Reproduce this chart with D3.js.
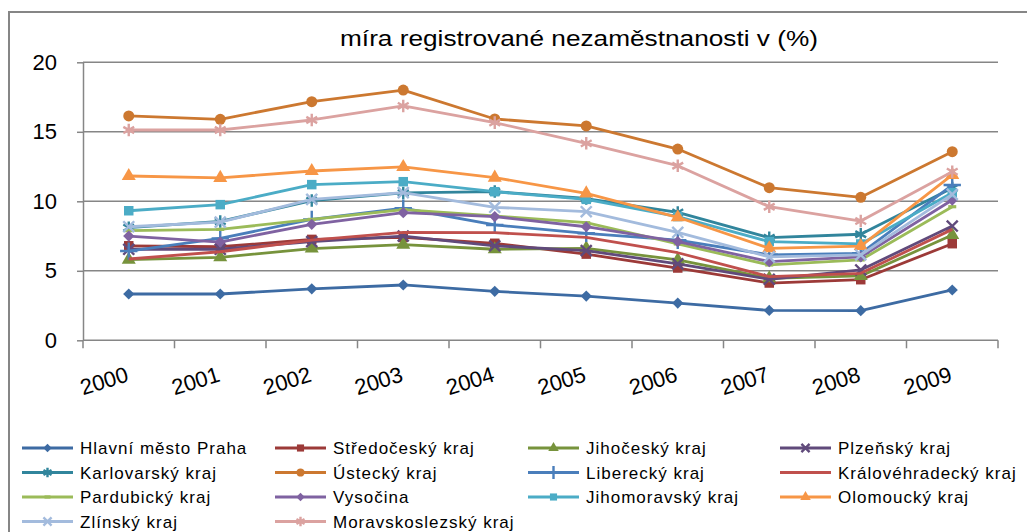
<html>
<head>
<meta charset="utf-8">
<script src="https://d3js.org/d3.v7.min.js"></script>
<style>
  body { margin: 0; background: #fff; }
  text { font-family: "Liberation Sans", Arial, sans-serif; fill: #000; }
</style>
</head>
<body>
<script>
// roky na ose x
var years = ["2000", "2001", "2002", "2003", "2004", "2005", "2006", "2007", "2008", "2009"];
var yTicks = [0, 5, 10, 15, 20];

// míra registrované nezaměstnanosti v %
var praha           = [3.33, 3.33, 3.70, 3.98, 3.52, 3.18, 2.68, 2.15, 2.13, 3.62];
var stredocesky     = [6.80, 6.73, 7.26, 7.40, 6.98, 6.20, 5.20, 4.12, 4.36, 6.95];
var jihocesky       = [5.80, 5.97, 6.60, 6.88, 6.55, 6.62, 5.78, 4.46, 4.63, 7.57];
var plzensky        = [6.55, 6.55, 7.10, 7.50, 6.80, 6.45, 5.50, 4.39, 5.06, 8.22];
var karlovarsky     = [8.10, 8.55, 10.05, 10.60, 10.70, 10.20, 9.20, 7.38, 7.63, 10.95];
var ustecky         = [16.14, 15.90, 17.17, 18.00, 15.92, 15.42, 13.76, 10.98, 10.29, 13.57];
var liberecky       = [6.42, 7.33, 8.70, 9.50, 8.30, 7.70, 7.20, 6.15, 6.26, 11.17];
var kralovehradecky = [5.85, 6.37, 7.20, 7.77, 7.74, 7.41, 6.30, 4.58, 4.82, 7.98];
var pardubicky      = [7.89, 7.98, 8.70, 9.40, 8.95, 8.46, 6.93, 5.42, 5.78, 9.61];
var vysocina        = [7.50, 7.07, 8.34, 9.18, 8.90, 8.17, 7.10, 5.66, 6.00, 10.09];
var jihomoravsky    = [9.32, 9.76, 11.20, 11.41, 10.69, 10.14, 8.90, 7.10, 6.93, 10.62];
var olomoucky       = [11.82, 11.68, 12.18, 12.47, 11.70, 10.57, 8.85, 6.62, 6.78, 11.90];
var zlinsky         = [8.17, 8.50, 10.14, 10.62, 9.57, 9.25, 7.77, 6.00, 6.14, 10.50];
var moravskoslezsky = [15.13, 15.13, 15.85, 16.86, 15.66, 14.17, 12.56, 9.61, 8.58, 12.13];

// kraje v pořadí legendy
var series = [
  { name: "Hlavní město Praha",   values: praha,           color: "#3d6ba3", marker: "diamond" },
  { name: "Středočeský kraj",     values: stredocesky,     color: "#9c3a38", marker: "square" },
  { name: "Jihočeský kraj",       values: jihocesky,       color: "#77933c", marker: "triangle" },
  { name: "Plzeňský kraj",        values: plzensky,        color: "#604a7b", marker: "times" },
  { name: "Karlovarský kraj",     values: karlovarsky,     color: "#31859c", marker: "star" },
  { name: "Ústecký kraj",         values: ustecky,         color: "#cc7830", marker: "circle" },
  { name: "Liberecký kraj",       values: liberecky,       color: "#4a7ebb", marker: "plus" },
  { name: "Královéhradecký kraj", values: kralovehradecky, color: "#c0504d", marker: "none" },
  { name: "Pardubický kraj",      values: pardubicky,      color: "#9bbb59", marker: "dash" },
  { name: "Vysočina",             values: vysocina,        color: "#7f62a1", marker: "diamond" },
  { name: "Jihomoravský kraj",    values: jihomoravsky,    color: "#4bacc6", marker: "square" },
  { name: "Olomoucký kraj",       values: olomoucky,       color: "#f79646", marker: "triangle" },
  { name: "Zlínský kraj",         values: zlinsky,         color: "#a3bbdd", marker: "times" },
  { name: "Moravskoslezský kraj", values: moravskoslezsky, color: "#dba2a0", marker: "star" }
];

var w = 1027, h = 532;
var mLeft = 83, mRight = 998, mTop = 62.3, mBottom = 340.3;

var svg = d3.select("body").append("svg").attr("width", w).attr("height", h);

// rámeček grafu (vidět je jen levá a horní hrana)
svg.append("path").attr("d", "M9,532V12H1027").attr("fill", "none")
  .attr("stroke", "#868686").attr("stroke-width", 2);

svg.append("text").attr("x", 579).attr("y", 46).attr("text-anchor", "middle")
  .attr("font-size", 22).attr("textLength", 478).attr("lengthAdjust", "spacingAndGlyphs")
  .text("míra registrované nezaměstnanosti v (%)");

var xScale = d3.scaleBand().domain(years).range([mLeft, mRight]);
var yScale = d3.scaleLinear().domain([0, 20]).range([mBottom, mTop]);
var cx = function(i){ return xScale(years[i]) + xScale.bandwidth() / 2; };

// mřížka
svg.append("g").selectAll("line").data(yTicks.filter(function(d){ return d > 0; })).enter()
  .append("line").attr("x1", mLeft).attr("x2", mRight)
  .attr("y1", function(d){ return yScale(d); }).attr("y2", function(d){ return yScale(d); })
  .attr("stroke", "#868686").attr("stroke-width", 1.5);

// osa y
var yAxis = d3.axisLeft(yScale).tickValues(yTicks).tickSize(6).tickPadding(20).tickSizeOuter(0);
var gy = svg.append("g").attr("transform", "translate(" + mLeft + ",0)").call(yAxis);
gy.selectAll("path, line").attr("stroke", "#868686").attr("stroke-width", 1.5);
gy.selectAll("text").attr("font-size", 22).attr("font-family", "Liberation Sans").attr("fill", "#000");

// osa x
var gx = svg.append("g");
gx.append("line").attr("x1", mLeft).attr("x2", mRight).attr("y1", mBottom).attr("y2", mBottom)
  .attr("stroke", "#868686").attr("stroke-width", 1.5);
var bounds = years.map(function(d){ return xScale(d); }).concat([mRight]);
gx.selectAll(".tick").data(bounds).enter().append("line")
  .attr("x1", function(d){ return d; }).attr("x2", function(d){ return d; })
  .attr("y1", mBottom).attr("y2", mBottom + 8)
  .attr("stroke", "#868686").attr("stroke-width", 1.5);
gx.selectAll(".lbl").data(years).enter().append("text")
  .attr("text-anchor", "end").attr("font-size", 22)
  .attr("transform", function(d, i){ return "translate(" + (cx(i) + 1) + ",381) rotate(-17)"; })
  .text(function(d){ return d; });

// značky
var markerSize = { diamond: 80, square: 90, triangle: 85, circle: 95, times: 80, star: 110, plus: 100 };
var markerType = { diamond: d3.symbolDiamond2, square: d3.symbolSquare, triangle: d3.symbolTriangle,
  circle: d3.symbolCircle, times: d3.symbolTimes, star: d3.symbolAsterisk, plus: d3.symbolPlus };
var strokeMarkers = { times: 1, star: 1, plus: 1 };

function drawMarker(g, d, x, y, k) {
  if (d.marker === "none") return;
  var p = g.append("path").attr("transform", "translate(" + x + "," + y + ")");
  if (d.marker === "dash") {
    p.attr("d", "M" + (-4 * k) + ",-1.6H" + (4 * k) + "V1.6H" + (-4 * k) + "Z").attr("fill", d.color);
    return;
  }
  p.attr("d", d3.symbol(markerType[d.marker], markerSize[d.marker] * k * k)());
  if (strokeMarkers[d.marker]) p.attr("fill", "none").attr("stroke", d.color).attr("stroke-width", 2.4);
  else p.attr("fill", d.color);
}

var line = d3.line().x(function(d, i){ return cx(i); }).y(function(d){ return yScale(d); });

series.forEach(function(s) {
  var g = svg.append("g");
  g.append("path").attr("d", line(s.values)).attr("fill", "none")
    .attr("stroke", s.color).attr("stroke-width", 2.8).attr("stroke-linejoin", "round");
  s.values.forEach(function(v, i){ drawMarker(g, s, cx(i), yScale(v), 1); });
});

// legenda
var colX = [22, 275, 528, 780];
var rowY = [448, 472.5, 497, 521.5];
series.forEach(function(s, i) {
  var x = colX[i % 4], y = rowY[Math.floor(i / 4)];
  var g = svg.append("g");
  g.append("line").attr("x1", x).attr("x2", x + 51).attr("y1", y).attr("y2", y)
    .attr("stroke", s.color).attr("stroke-width", 2.8);
  drawMarker(g, s, x + 25.5, y, 0.75);
  g.append("text").attr("x", x + 58).attr("y", y + 6).attr("font-size", 17)
    .attr("letter-spacing", 1).text(s.name);
});
</script>
</body>
</html>
